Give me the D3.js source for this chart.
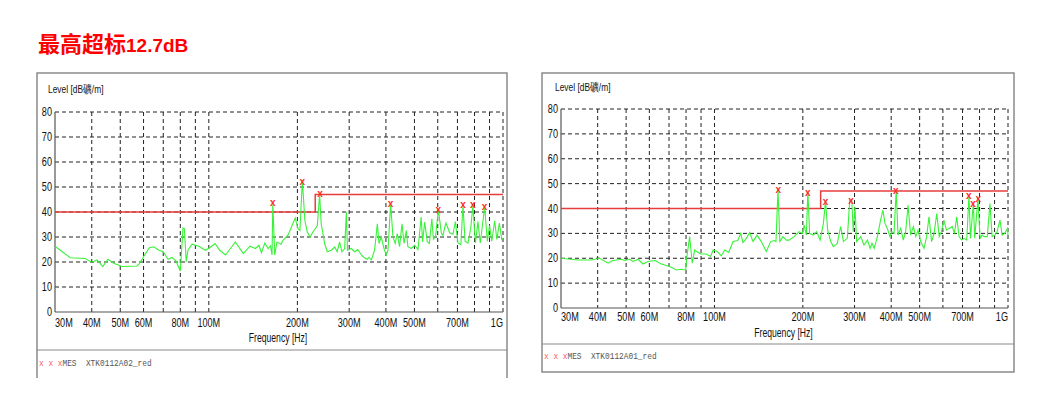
<!DOCTYPE html>
<html><head><meta charset="utf-8">
<script src="https://cdn.jsdelivr.net/npm/d3@7"></script>
<style>body{margin:0;background:#fff}svg{display:block}</style>
</head><body>
<svg id="c" width="1052" height="393"></svg>
<script>
// ---------- data ----------
const titleMain = "最高超标";
const titleValue = "12.7dB";
const yAxisTitle = "Level [dB礦/m]";
const xAxisTitle = "Frequency [Hz]";
const yTicks = [0, 10, 20, 30, 40, 50, 60, 70, 80];
const gridFreqs = [30, 40, 50, 60, 70, 80, 90, 100, 200, 300, 400, 500, 600, 700, 800, 900, 1000];
const xTickFreqs = [30, 40, 50, 60, 80, 100, 200, 300, 400, 500, 700, 1000];
const xTickLabels = ["30M", "40M", "50M", "60M", "80M", "100M", "200M", "300M", "400M", "500M", "700M", "1G"];
const limitFreq = [30, 230, 230, 1000];
const limitLevel = [40, 40, 47, 47];
const legendMarks = "x x x";
const legendPrefix = "MES  ";
const leftLegendName = "XTK0112A02_red";
const rightLegendName = "XTK0112A01_red";

const leftFreq = [30,33.8,38,40,41.7,43.6,45.4,47.5,50.7,57,58,60,62.8,65,67.6,70,72.7,75,77.3,80,81.7,82.6,83.8,84.9,87.7,92.4,97.3,101,105,109,114,120,123,131,138,144,148,151,155,159,162,164,165,167.5,170.5,176,178.7,185.8,193,196.7,201,204,208,212,216,221,226,230,233.8,238,241,247.6,252.7,260.8,268,273,278.5,283.5,289.6,293.4,296,305,313,321,330,336,345.6,350.5,356.7,366,374,379,385.6,394,401,406.5,415,422.7,430,437,445,453.6,461,469,475,487.8,501,514,527,533,541.7,553,562,573,580,590,603,617,625,633,640,659,676,689,703,719,731,743,760,777,790,806,822,837,866,885,900,916,937,953,972,990,1000];
const leftLevel = [26.3,21.7,21.4,19.9,20.8,18.2,21.1,19.5,18.2,18.4,19.2,22.1,25.7,26.1,24.7,24.1,21.1,21.8,20.5,16.4,33.6,33.3,20.1,24.7,27.1,26.3,24.7,25.8,27.4,24.7,22.8,26.3,28.0,23.4,26.3,25.4,26.7,23.7,27.6,25.4,26.5,22.8,43.5,22.8,28,27.1,28.7,30.7,35.3,37.6,33.3,32.6,52.7,36.7,32.1,30,32.1,33.3,34.6,47,35.3,27.4,24.1,24.7,26,24.1,28,24.1,25.4,40,24.7,25.4,24.1,25,22.8,21.9,21.1,21.9,20.8,24.7,35.3,27.4,30,25.4,22.8,24.7,43.2,30,27.4,31.4,26.1,35.3,27.4,32.6,26.1,25.4,26.7,25,38,28,36,28,27.4,37.3,29.1,30.3,41,31.7,30.5,33.6,35.6,31.7,31.1,36.2,27.6,27,42.7,28.3,27.6,33.6,42.7,27.6,36.2,27.6,41.9,28.3,34.6,28.3,36.5,29,35.6,29,29.6];
const leftMarkFreq = [165, 208, 239, 415, 603, 731, 790, 866];
const leftMarkLevel = [43.7, 52.1, 47.1, 43.2, 41.0, 42.7, 42.7, 41.9];

const rightFreq = [30,34.3,38,40.6,43.4,45.1,48.2,49.4,51.4,52.8,54.9,57.1,59.4,62.6,65.9,70.4,74.1,77.1,79.8,80.5,82.3,84,85.6,87,89.7,93.8,97,98.9,102.2,105.5,108.4,111.8,115.7,120,122.9,125,128.4,131.8,135.3,139.6,144.4,150.2,155.4,159.5,162,164.6,167,171.2,175.7,179.4,186.7,194,199.3,202,205.6,208,211,217,223,229,235,239,243,249,254,262,269,275,283.5,289,293.5,297,301,305,315,323,332,339,344,350,359,368,375,381,388,396,402,409,416,422,431,440,448,456.6,466,476,485,494,504,517.6,528,538,549,560,572,583,593,605,617,630,646,657,669,681,696,708,723.5,736,745,762,770,790,803,816,829,850,868,883,903,918,939,955,975,996,1000];
const rightLevel = [20,19.3,19.3,20,18,19.1,19.6,19.1,19.6,18.7,19.6,17.7,18.7,19.1,17.7,16.7,15.3,15.6,15.3,20.4,28.7,18,23.3,22.7,21.7,21.7,20.7,23.3,22.7,21,23.3,22.3,26.7,27.1,30,26.3,28,30.3,26.7,29.3,26.7,22.7,26.7,27.1,26.7,47.6,26.7,28.7,27.3,27.3,28.7,30.7,30,33.3,29.3,46.8,30,29.3,30.7,27.3,34,43,31.3,26.7,24.7,26,32.7,26.7,28,43.3,43.5,30.7,40.7,26.7,28.7,25.3,27.3,24,26,24,28.7,35.3,39.3,34,32,28.7,30.7,30,47.2,29.3,32,27.3,30.7,41.3,29.3,32.7,28.7,31.3,26.7,24,28.7,36.7,26.7,30,38,28.7,30.7,35.3,31.3,32,32.7,30,36.7,28.7,27.3,28,27.3,45.2,28,42.2,28,44,28,29.3,28.7,28.7,42,28.7,29.3,30.7,35.3,29.3,30,32,29.3];
const rightMarkFreq = [165, 208, 239, 292, 415, 735, 760, 792];
const rightMarkLevel = [47.4, 46.4, 42.6, 43.1, 47.0, 45.0, 41.9, 43.8];

// ---------- drawing ----------
const svg = d3.select("#c");
const SANS = "'Liberation Sans', Arial, sans-serif";
const MONO = "'Liberation Mono', 'Courier New', monospace";
const SX = 0.76;

const title = svg.append("text").attr("x", 38).attr("y", 52)
  .attr("fill", "#ff0000").attr("font-weight", "bold")
  .attr("font-family", "'Noto Sans CJK SC', sans-serif");
title.append("tspan").attr("font-size", 22).text(titleMain);
title.append("tspan").attr("font-size", 19).attr("font-family", SANS).text(titleValue);

function narrowText(g, x, y, str, size, anchor, sx, fill) {
  return g.append("text")
    .attr("transform", `translate(${x},${y}) scale(${sx},1)`)
    .attr("font-family", SANS).attr("font-size", size)
    .attr("text-anchor", anchor).attr("fill", fill || "#111").text(str);
}

function drawChart(cfg, freq, level, markFreq, markLevel, legendName) {
  const g = svg.append("g");
  const x = d3.scaleLog().domain([30, 1000]).range([cfg.pl, cfg.pr]);
  const y = d3.scaleLinear().domain([0, 80]).range([cfg.pb, cfg.pt]);

  // frame
  const frame = cfg.closed
    ? `M${cfg.bl},${cfg.bt}H${cfg.br}V${cfg.bb}H${cfg.bl}Z`
    : `M${cfg.bl},${cfg.bb}V${cfg.bt}H${cfg.br}V${cfg.bb}`;
  g.append("path").attr("d", frame).attr("fill", "none").attr("stroke", "#8a8a8a").attr("stroke-width", 1.5);
  g.append("line").attr("x1", cfg.bl).attr("x2", cfg.br).attr("y1", cfg.sep).attr("y2", cfg.sep)
    .attr("stroke", "#8a8a8a").attr("stroke-width", 1.2);

  // grid
  g.selectAll(".hg").data(yTicks.filter(d => d > 0)).join("line")
    .attr("x1", cfg.pl).attr("x2", cfg.pr).attr("y1", d => y(d)).attr("y2", d => y(d))
    .attr("stroke", "#222").attr("stroke-width", 1).attr("stroke-dasharray", "4,3");
  g.selectAll(".vg").data(gridFreqs.filter(d => d > 30)).join("line")
    .attr("x1", d => x(d)).attr("x2", d => x(d)).attr("y1", cfg.pt).attr("y2", cfg.pb)
    .attr("stroke", "#222").attr("stroke-width", 1).attr("stroke-dasharray", "4,3");

  // axes
  g.append("line").attr("x1", cfg.pl).attr("x2", cfg.pl).attr("y1", cfg.pt).attr("y2", cfg.pb).attr("stroke", "#555").attr("stroke-width", 1.2);
  g.append("line").attr("x1", cfg.pl).attr("x2", cfg.pr).attr("y1", cfg.pb).attr("y2", cfg.pb).attr("stroke", "#555").attr("stroke-width", 1.2);

  yTicks.forEach(t => narrowText(g, cfg.pl - 3, y(t) + 4, String(t), 12, "end", SX));
  const last = xTickFreqs.length - 1;
  xTickFreqs.forEach((f, i) => narrowText(g, x(f), cfg.xtY, xTickLabels[i], 12,
    i === 0 ? "start" : (i === last ? "end" : "middle"), SX));
  narrowText(g, (cfg.pl + cfg.pr) / 2 - 1, cfg.xtitleY, xAxisTitle, 12, "middle", 0.72);
  narrowText(g, cfg.ytx, cfg.yty, yAxisTitle, 10.5, "start", 0.8);

  // limit line
  const lim = limitFreq.map((f, i) => [f, limitLevel[i]]);
  g.append("path").attr("d", d3.line().x(d => x(d[0])).y(d => y(d[1]))(lim))
    .attr("fill", "none").attr("stroke", "#e83c3c").attr("stroke-width", 1.5);

  // trace
  const pts = freq.map((f, i) => [f, level[i]]);
  g.append("path").attr("d", d3.line().x(d => x(d[0])).y(d => y(d[1]))(pts))
    .attr("fill", "none").attr("stroke", "#38f238").attr("stroke-width", 1.1);

  // markers
  markFreq.forEach((f, i) => {
    g.append("text").attr("x", x(f)).attr("y", y(markLevel[i]) + 3)
      .attr("text-anchor", "middle").attr("font-family", SANS).attr("font-size", 10)
      .attr("font-weight", "bold").attr("fill", "#ff2a2a").text("x");
  });

  // legend
  const lg = g.append("text").attr("transform", `translate(${cfg.bl + 2},${cfg.legY}) scale(0.87,1)`)
    .attr("font-family", MONO).attr("font-size", 9).style("white-space", "pre");
  lg.append("tspan").attr("fill", "#ff5a5a").text(legendMarks);
  lg.append("tspan").attr("fill", "#555").text(legendPrefix + legendName);
}

drawChart({bl: 37, br: 507, bt: 73, bb: 378, closed: false, sep: 350,
           pl: 55, pr: 503, pt: 112, pb: 312, xtY: 327, xtitleY: 342, ytx: 48, yty: 93, legY: 366},
          leftFreq, leftLevel, leftMarkFreq, leftMarkLevel, leftLegendName);
drawChart({bl: 542, br: 1014, bt: 73, bb: 372, closed: true, sep: 344,
           pl: 561, pr: 1008, pt: 109, pb: 308, xtY: 321, xtitleY: 337, ytx: 555, yty: 91, legY: 359},
          rightFreq, rightLevel, rightMarkFreq, rightMarkLevel, rightLegendName);
</script>
</body></html>
